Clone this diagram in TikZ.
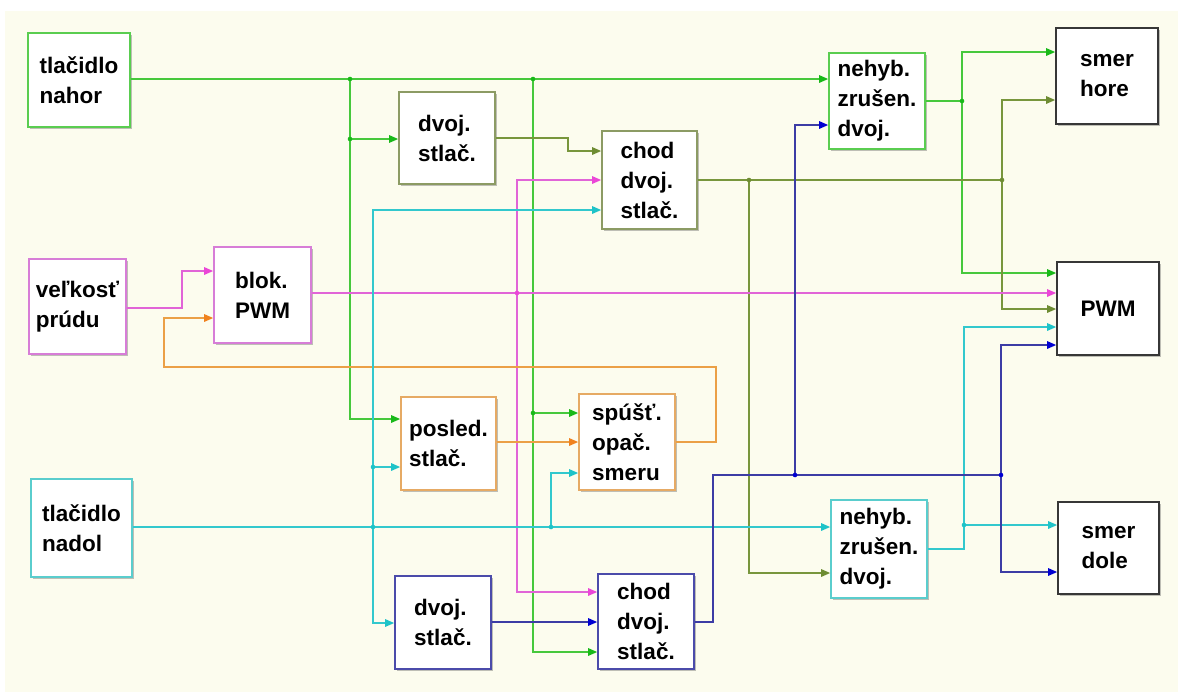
\documentclass[tikz,border=0pt]{standalone}
\usepackage{fontspec}
\setmainfont{Liberation Sans}
\usetikzlibrary{arrows.meta,shadows}
\definecolor{bg}{RGB}{252,252,238}
\definecolor{cG}{RGB}{70,200,60}
\definecolor{aG}{RGB}{25,185,25}
\definecolor{cO}{RGB}{120,150,60}
\definecolor{aO}{RGB}{110,140,50}
\definecolor{cM}{RGB}{225,100,215}
\definecolor{aM}{RGB}{235,70,215}
\definecolor{cOr}{RGB}{235,160,70}
\definecolor{aOr}{RGB}{240,130,30}
\definecolor{cC}{RGB}{50,200,205}
\definecolor{aC}{RGB}{30,195,200}
\definecolor{cB}{RGB}{60,60,165}
\definecolor{aB}{RGB}{0,0,210}
\definecolor{bG}{RGB}{90,205,80}
\definecolor{bO}{RGB}{140,155,100}
\definecolor{bM}{RGB}{215,125,215}
\definecolor{bOr}{RGB}{230,170,100}
\definecolor{bC}{RGB}{90,205,205}
\definecolor{bB}{RGB}{75,75,170}
\definecolor{bK}{RGB}{55,55,55}
\begin{document}
\begin{tikzpicture}[x=1pt,y=-1pt,
  box/.style={draw, line width=1.7pt, fill=white, rectangle, align=left, inner sep=0pt,
    font=\fontsize{22.5}{30}\selectfont\bfseries,
    drop shadow={shadow xshift=2pt,shadow yshift=-2.2pt,opacity=0.35,fill=black!70}},
  wire/.style={line width=1.4pt},
  arr/.style={-{Triangle[length=9pt,width=7.5pt,color=#1]}},
  dot/.style={radius=2.3pt}
]
\useasboundingbox (0,0) rectangle (1178,694);
\fill[white] (0,0) rectangle (1178,694);
\fill[bg] (5,11) rectangle (1178,692);

% boxes
\node[box, draw=bG, minimum width=102pt, minimum height=94pt] (nahor) at (79,80) {tlačidlo\\nahor};
\node[box, draw=bO, minimum width=96pt, minimum height=92pt] (dvojT) at (447,138) {dvoj.\\stlač.};
\node[box, draw=bO, minimum width=95pt, minimum height=98pt] (chodT) at (649.5,180) {chod\\dvoj.\\stlač.};
\node[box, draw=bG, minimum width=96pt, minimum height=96pt] (nehybT) at (877,101) {nehyb.\\zrušen.\\dvoj.};
\node[box, draw=bK, minimum width=102pt, minimum height=96pt] (smerH) at (1107,76) {smer\\hore};
\node[box, draw=bM, minimum width=97pt, minimum height=95pt] (velk) at (77.5,306.5) {veľkosť\\prúdu};
\node[box, draw=bM, minimum width=97pt, minimum height=96pt] (blok) at (262.5,295) {blok.\\PWM};
\node[box, draw=bK, minimum width=102pt, minimum height=93pt] (pwm) at (1108,308.5) {PWM};
\node[box, draw=bOr, minimum width=95pt, minimum height=93pt] (posled) at (448.5,443.5) {posled.\\stlač.};
\node[box, draw=bOr, minimum width=96pt, minimum height=96pt] (spust) at (627,442) {spúšť.\\opač.\\smeru};
\node[box, draw=bC, minimum width=101pt, minimum height=98pt] (nadol) at (81.5,528) {tlačidlo\\nadol};
\node[box, draw=bB, minimum width=96pt, minimum height=93pt] (dvojB) at (443,622.5) {dvoj.\\stlač.};
\node[box, draw=bB, minimum width=96pt, minimum height=95pt] (chodB) at (646,621.5) {chod\\dvoj.\\stlač.};
\node[box, draw=bC, minimum width=96pt, minimum height=98pt] (nehybB) at (879,549) {nehyb.\\zrušen.\\dvoj.};
\node[box, draw=bK, minimum width=101pt, minimum height=92pt] (smerD) at (1108.5,548) {smer\\dole};

% junction coordinates
\coordinate (gA) at (350,79);
\coordinate (gB) at (350,139);
\coordinate (gC) at (533,79);
\coordinate (gD) at (533,413);
\coordinate (gE) at (962,101);
\coordinate (oA) at (749,180);
\coordinate (oB) at (1002,180);
\coordinate (mA) at (517,293);
\coordinate (cA) at (373,527);
\coordinate (cB) at (373,467);
\coordinate (cCc) at (551,527);
\coordinate (cD) at (964,525);
\coordinate (bA) at (795,475);
\coordinate (bBb) at (1001,475);

% green
\begin{scope}[wire, draw=cG]
\draw[arr=aG] (nahor.east |- gA) -- (nehybT.west |- gA);
\draw[arr=aG] (gA) -- (350,419) -- (posled.west |- 0,419);
\draw[arr=aG] (gB) -- (dvojT.west |- gB);
\draw[arr=aG] (gC) -- (533,652) -- (chodB.west |- 0,652);
\draw[arr=aG] (gD) -- (spust.west |- gD);
\draw (nehybT.east |- gE) -- (gE);
\draw[arr=aG] (gE) -- (962,52) -- (smerH.west |- 0,52);
\draw[arr=aG] (gE) -- (962,273) -- (pwm.west |- 0,273);
\end{scope}
\fill[aG] (gA) circle[dot] (gB) circle[dot] (gC) circle[dot] (gD) circle[dot] (gE) circle[dot];

% olive
\begin{scope}[wire, draw=cO]
\draw[arr=aO] (dvojT.east |- 0,138) -- (568,138) -- (568,151) -- (chodT.west |- 0,151);
\draw (chodT.east |- oA) -- (oB);
\draw[arr=aO] (oA) -- (749,573) -- (nehybB.west |- 0,573);
\draw[arr=aO] (oB) -- (1002,100) -- (smerH.west |- 0,100);
\draw[arr=aO] (oB) -- (1002,309) -- (pwm.west |- 0,309);
\end{scope}
\fill[aO] (oA) circle[dot] (oB) circle[dot];

% magenta
\begin{scope}[wire, draw=cM]
\draw[arr=aM] (velk.east |- 0,308) -- (182,308) -- (182,271) -- (blok.west |- 0,271);
\draw[arr=aM] (blok.east |- mA) -- (pwm.west |- mA);
\draw[arr=aM] (mA) -- (517,180) -- (chodT.west |- 0,180);
\draw[arr=aM] (mA) -- (517,592) -- (chodB.west |- 0,592);
\end{scope}
\fill[aM] (mA) circle[dot];

% orange
\begin{scope}[wire, draw=cOr]
\draw[arr=aOr] (posled.east |- 0,442) -- (spust.west |- 0,442);
\draw[arr=aOr] (spust.east |- 0,442) -- (716,442) -- (716,367) -- (164,367) -- (164,318) -- (blok.west |- 0,318);
\end{scope}

% cyan
\begin{scope}[wire, draw=cC]
\draw[arr=aC] (nadol.east |- cA) -- (nehybB.west |- cA);
\draw[arr=aC] (cA) -- (373,210) -- (chodT.west |- 0,210);
\draw[arr=aC] (cA) -- (373,623) -- (dvojB.west |- 0,623);
\draw[arr=aC] (cB) -- (posled.west |- cB);
\draw[arr=aC] (cCc) -- (551,473) -- (spust.west |- 0,473);
\draw[arr=aC] (nehybB.east |- 0,549) -- (964,549) -- (964,327) -- (pwm.west |- 0,327);
\draw[arr=aC] (cD) -- (smerD.west |- cD);
\end{scope}
\fill[aC] (cA) circle[dot] (cB) circle[dot] (cCc) circle[dot] (cD) circle[dot];

% blue
\begin{scope}[wire, draw=cB]
\draw[arr=aB] (dvojB.east |- 0,622) -- (chodB.west |- 0,622);
\draw (chodB.east |- 0,622) -- (713,622) -- (713,475) -- (bBb);
\draw[arr=aB] (bA) -- (795,125) -- (nehybT.west |- 0,125);
\draw[arr=aB] (bBb) -- (1001,345) -- (pwm.west |- 0,345);
\draw[arr=aB] (bBb) -- (1001,572) -- (smerD.west |- 0,572);
\end{scope}
\fill[aB] (bA) circle[dot] (bBb) circle[dot];
\end{tikzpicture}
\end{document}
